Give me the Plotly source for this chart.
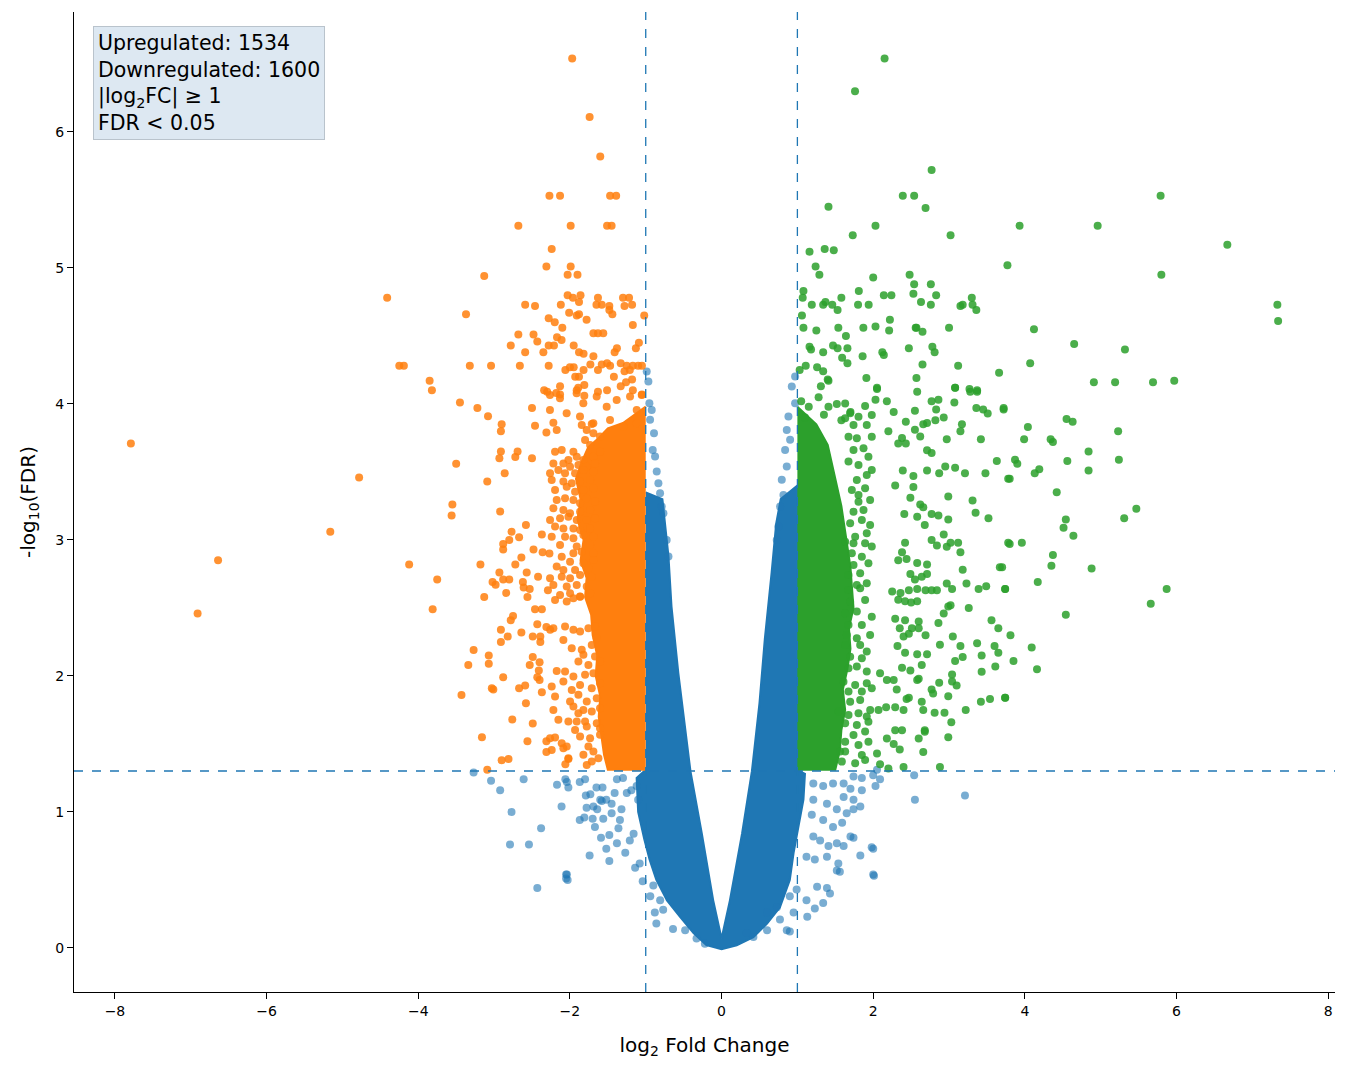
import plotly.graph_objects as go

# ---------------- data ----------------
# Dense cores (too many overlapping genes to separate) drawn as filled outlines, data units
ns_core = [(-1.0, 3.35), (-0.78, 3.30), (-0.70, 2.88), (-0.66, 2.51), (-0.57, 2.02), (-0.52, 1.80),
           (-0.41, 1.30), (-0.26, 0.84), (-0.11, 0.35), (0.0, 0.07), (0.11, 0.35), (0.27, 0.84),
           (0.40, 1.30), (0.50, 1.80), (0.57, 2.27), (0.66, 2.76), (0.72, 3.12), (0.78, 3.30),
           (1.0, 3.40), (1.0, 1.31), (1.10, 1.28), (1.08, 1.09), (1.01, 0.89), (0.95, 0.70),
           (0.90, 0.50), (0.77, 0.30), (0.60, 0.18), (0.42, 0.08), (0.20, 0.02), (0.0, -0.01),
           (-0.20, 0.02), (-0.37, 0.11), (-0.55, 0.23), (-0.72, 0.35), (-0.86, 0.50), (-0.95, 0.65),
           (-1.02, 0.80), (-1.10, 1.00), (-1.12, 1.25), (-1.0, 1.31)]

down_core = [(-1.0, 1.31), (-1.50, 1.31), (-1.55, 1.42), (-1.58, 1.55), (-1.62, 1.70), (-1.60, 1.85),
             (-1.66, 2.00), (-1.64, 2.15), (-1.70, 2.30), (-1.72, 2.45), (-1.80, 2.58), (-1.78, 2.72),
             (-1.86, 2.85), (-1.82, 3.00), (-1.90, 3.15), (-1.86, 3.30), (-1.92, 3.45), (-1.84, 3.58),
             (-1.76, 3.68), (-1.62, 3.75), (-1.50, 3.82), (-1.30, 3.86), (-1.15, 3.92), (-1.0, 3.98)]

up_core = [(1.0, 1.31), (1.50, 1.31), (1.56, 1.45), (1.58, 1.60), (1.63, 1.75), (1.60, 1.90),
           (1.66, 2.05), (1.70, 2.20), (1.68, 2.35), (1.74, 2.50), (1.72, 2.65), (1.70, 2.80),
           (1.66, 2.95), (1.62, 3.10), (1.58, 3.25), (1.52, 3.40), (1.46, 3.55), (1.40, 3.70),
           (1.25, 3.85), (1.0, 3.98)]

# Non-significant genes (individual points)
ns_points = [
    (-2.06, 1.24), (-2.02, 1.18), (-2.11, 1.04), (-1.87, 1.22), (-1.80, 1.24), (-1.73, 1.13),
    (-1.65, 1.18), (-1.57, 1.18), (-1.78, 1.03), (-1.69, 1.04), (-1.64, 1.02), (-1.58, 1.08),
    (-1.52, 1.09), (-1.45, 1.06), (-1.87, 0.94), (-1.81, 0.96), (-1.70, 0.95), (-1.56, 0.95),
    (-1.45, 0.99), (-1.32, 1.02), (-1.67, 0.89), (-1.59, 0.81), (-1.48, 0.83), (-1.36, 0.88),
    (-1.52, 0.73), (-1.38, 0.77), (-1.27, 0.70), (-1.74, 0.68), (-1.48, 0.64), (-1.14, 0.59),
    (-1.08, 0.62), (-1.04, 0.49), (-2.04, 0.54), (-2.05, 0.51), (-1.21, 0.79), (-1.16, 0.84),
    (-1.25, 1.14), (-1.19, 1.16), (-1.10, 1.09), (-1.38, 1.24), (-1.30, 1.25), (-1.12, 1.19),
    (-1.41, 1.14), (-1.34, 0.94),
    (1.74, 1.26), (1.85, 1.25), (2.00, 1.27), (1.70, 1.17), (1.85, 1.16), (2.03, 1.19),
    (1.21, 1.21), (1.34, 1.19), (1.47, 1.21), (1.61, 1.21), (1.61, 1.11), (1.74, 1.09),
    (1.21, 1.09), (1.39, 1.06), (1.52, 1.02), (1.65, 0.99), (1.19, 0.98), (1.34, 0.94),
    (1.47, 0.89), (1.59, 0.92), (1.74, 1.02), (1.83, 1.04), (1.21, 0.82), (1.30, 0.79),
    (1.41, 0.75), (1.52, 0.77), (1.61, 0.75), (1.70, 0.82), (1.74, 0.81), (2.00, 0.73),
    (2.00, 0.54), (1.12, 0.67), (1.23, 0.65), (1.39, 0.67), (1.52, 0.57), (1.56, 0.56),
    (1.26, 0.45), (1.39, 0.44), (1.43, 0.40), (1.12, 0.35), (1.23, 0.29), (1.34, 0.33),
    (1.13, 0.23), (0.90, 0.12),
    (-0.94, 0.38), (-0.88, 0.26), (-0.86, 0.18), (-0.64, 0.14), (-0.48, 0.13), (-0.33, 0.07),
    (-0.22, 0.03), (-0.90, 0.46), (-0.81, 0.35), (-0.77, 0.28),
    (0.33, 0.11), (0.42, 0.08), (0.60, 0.13), (0.77, 0.21), (0.86, 0.13), (0.95, 0.26),
    (0.60, 0.26), (0.73, 0.30), (0.90, 0.38), (0.99, 0.43),
    (-3.04, 1.23), (-3.27, 1.29), (-2.92, 1.16), (-2.77, 1.00), (-2.61, 1.24), (-2.38, 0.88),
    (-2.04, 1.22), (-2.79, 0.76), (-2.54, 0.76), (-2.43, 0.44), (-2.05, 0.54), (-2.03, 0.50),
    (-2.17, 1.20), (-1.79, 1.12), (-1.60, 1.09),
    (3.21, 1.12), (2.55, 1.09), (2.54, 1.27), (2.05, 1.31), (1.98, 0.74), (2.01, 0.53),
    (1.83, 0.68), (1.54, 0.62), (2.09, 1.24),
    (-0.987, 4.238), (-0.965, 4.165), (-0.952, 4.005), (-0.921, 3.956), (-0.943, 3.883),
    (-0.891, 3.785), (-0.908, 3.662), (-0.855, 3.503), (-0.833, 3.417), (-0.811, 3.344),
    (-0.877, 3.613), (-0.789, 3.245), (-0.767, 3.196), (-0.724, 3.000), (-0.700, 2.878),
    (0.970, 4.201), (0.926, 4.128), (0.970, 4.005), (0.882, 3.907), (0.860, 3.809),
    (0.904, 3.736), (0.838, 3.662), (0.860, 3.540), (0.794, 3.442), (0.816, 3.331),
    (0.772, 3.245), (0.750, 3.098), (0.728, 3.000),
]

# Downregulated genes (orange)
down_far = [(-7.79, 3.71), (-6.91, 2.46), (-6.64, 2.85), (-5.16, 3.06), (-4.78, 3.46),
            (-4.41, 4.78), (-4.25, 4.28), (-4.19, 4.28), (-4.12, 2.82), (-3.85, 4.17),
            (-3.82, 4.10), (-3.75, 2.71), (-3.81, 2.49)]

down_top = [
    (-1.97, 6.54), (-1.74, 6.11), (-1.60, 5.82), (-2.27, 5.53), (-2.13, 5.53), (-1.47, 5.53),
    (-1.39, 5.53), (-2.68, 5.31), (-1.99, 5.31), (-1.51, 5.31), (-1.45, 5.31), (-2.24, 5.14),
    (-2.31, 5.01), (-1.99, 5.01), (-2.03, 4.95), (-1.90, 4.95), (-3.13, 4.94), (-3.37, 4.66),
    (-2.59, 4.73), (-2.46, 4.72), (-2.03, 4.80), (-1.96, 4.78), (-1.86, 4.80), (-1.88, 4.75),
    (-2.12, 4.73), (-1.63, 4.78), (-1.65, 4.73), (-1.58, 4.73), (-1.48, 4.72), (-1.48, 4.69),
    (-1.44, 4.66), (-1.30, 4.78), (-1.22, 4.78), (-1.28, 4.72), (-1.18, 4.73), (-1.02, 4.65),
    (-2.01, 4.67), (-1.91, 4.65), (-1.88, 4.66), (-2.28, 4.63), (-2.20, 4.60), (-2.10, 4.56),
    (-1.78, 4.62), (-1.17, 4.58), (-2.68, 4.51), (-2.48, 4.51), (-2.17, 4.49), (-2.11, 4.47),
    (-2.43, 4.46), (-2.78, 4.43), (-2.28, 4.43), (-2.21, 4.43), (-1.95, 4.43), (-2.59, 4.38),
    (-2.35, 4.38), (-1.88, 4.38), (-1.82, 4.37), (-1.69, 4.52), (-1.63, 4.52), (-1.56, 4.52),
    (-1.41, 4.38), (-1.38, 4.41), (-1.13, 4.41), (-1.09, 4.45), (-3.32, 4.28), (-3.04, 4.28),
    (-2.66, 4.28), (-2.28, 4.28), (-2.06, 4.25), (-2.00, 4.27), (-1.95, 4.27), (-1.82, 4.25),
    (-1.73, 4.29), (-1.69, 4.35), (-1.63, 4.25), (-1.58, 4.29), (-1.51, 4.30), (-1.47, 4.28),
    (-1.33, 4.30), (-1.25, 4.28), (-1.17, 4.28), (-1.10, 4.28), (-1.05, 4.28), (-1.28, 4.24),
    (-1.21, 4.25), (-1.93, 4.20), (-1.88, 4.20), (-1.42, 4.20), (-1.18, 4.18), (-1.26, 4.16),
    (-1.33, 4.13), (-1.81, 4.14), (-1.91, 4.10), (-1.89, 4.12), (-2.13, 4.13), (-2.34, 4.10),
    (-2.30, 4.09), (-2.18, 4.08), (-2.13, 4.07), (-1.63, 4.09), (-1.51, 4.10), (-1.17, 4.10),
    (-1.05, 4.07), (-1.81, 4.06),
    (-2.263, 4.066), (-2.131, 4.042), (-1.911, 4.078), (-1.823, 4.005), (-1.647, 4.054),
    (-1.515, 3.980), (-1.383, 4.029), (-1.207, 4.054), (-1.119, 3.956), (-1.053, 4.066),
    (-2.263, 3.956), (-2.043, 3.931), (-1.867, 3.907), (-1.691, 3.858), (-1.471, 3.882),
    (-1.295, 3.833), (-1.119, 3.858), (-1.779, 3.809), (-1.603, 3.760),
]

down_mid = [
    (-3.45, 4.01), (-3.22, 3.97), (-3.08, 3.91), (-2.90, 3.85), (-2.91, 3.80), (-2.50, 3.97),
    (-2.46, 3.84), (-2.31, 3.79), (-3.50, 3.56), (-2.91, 3.65), (-2.93, 3.60), (-2.69, 3.65),
    (-2.72, 3.61), (-2.50, 3.60), (-3.09, 3.43), (-2.86, 3.49), (-3.55, 3.26), (-3.56, 3.18),
    (-2.92, 3.21), (-2.58, 3.11), (-2.77, 3.06), (-2.80, 3.00), (-2.88, 2.97), (-2.88, 2.93),
    (-2.67, 3.02), (-2.37, 3.04), (-2.48, 2.93), (-2.36, 2.91), (-2.27, 2.90), (-3.18, 2.82),
    (-2.72, 2.82), (-2.64, 2.87), (-2.93, 2.76), (-2.57, 2.76), (-3.02, 2.69), (-2.98, 2.67),
    (-2.88, 2.71), (-2.80, 2.71), (-2.62, 2.69), (-2.61, 2.65), (-2.53, 2.64), (-2.42, 2.73),
    (-2.29, 2.63), (-3.13, 2.58), (-2.84, 2.61), (-2.56, 2.58), (-2.46, 2.49), (-2.37, 2.49),
    (-2.75, 2.44), (-2.78, 2.41), (-2.43, 2.38), (-2.31, 2.36), (-2.26, 2.34), (-2.91, 2.34),
    (-2.82, 2.29), (-2.91, 2.25), (-2.64, 2.32), (-2.49, 2.29), (-2.39, 2.29), (-2.39, 2.25),
    (-3.27, 2.19), (-3.07, 2.15), (-3.07, 2.09), (-3.34, 2.08), (-2.49, 2.14), (-2.40, 2.10),
    (-2.41, 2.04), (-2.53, 2.08), (-2.43, 1.99), (-2.40, 1.97), (-2.88, 1.99), (-3.03, 1.91),
    (-3.01, 1.90), (-2.67, 1.91), (-2.59, 1.93), (-2.37, 1.88), (-3.43, 1.86), (-2.58, 1.80),
    (-2.76, 1.68), (-2.49, 1.65), (-3.16, 1.55), (-2.56, 1.52), (-2.31, 1.52), (-2.31, 1.44),
    (-2.90, 1.38), (-2.81, 1.39), (-3.09, 1.31), (-2.06, 1.35), (-2.02, 1.39),
]

down_band_upper = [
    (-2.218, 3.862), (-2.174, 3.808), (-1.844, 3.845), (-1.712, 3.853), (-1.690, 3.784),
    (-1.800, 3.735), (-1.734, 3.698), (-2.196, 3.649), (-2.108, 3.661), (-1.954, 3.649),
    (-1.910, 3.612), (-2.020, 3.588), (-1.822, 3.588), (-1.690, 3.612), (-1.603, 3.649),
    (-2.218, 3.563), (-2.086, 3.563), (-1.998, 3.539), (-1.888, 3.551), (-1.778, 3.539),
    (-1.669, 3.563), (-2.262, 3.490), (-2.152, 3.514), (-2.064, 3.490), (-1.932, 3.490),
    (-1.822, 3.514), (-1.690, 3.502), (-2.240, 3.441), (-2.086, 3.429), (-1.976, 3.416),
    (-1.866, 3.429), (-1.734, 3.441), (-2.196, 3.367), (-2.042, 3.392), (-1.932, 3.355),
    (-1.822, 3.367), (-1.690, 3.380), (-2.174, 3.294), (-2.064, 3.306), (-1.954, 3.294),
    (-1.866, 3.269), (-1.778, 3.306), (-1.669, 3.282), (-2.218, 3.233), (-2.086, 3.220),
    (-1.998, 3.196), (-1.866, 3.208), (-1.734, 3.220), (-2.262, 3.147), (-2.130, 3.159),
    (-2.020, 3.171), (-1.910, 3.147), (-1.778, 3.147), (-1.669, 3.159), (-2.196, 3.098),
    (-2.086, 3.085), (-1.954, 3.085), (-1.866, 3.073), (-1.734, 3.085), (-2.240, 3.024),
    (-2.064, 3.024), (-1.954, 3.012), (-1.822, 3.036), (-1.690, 3.024), (-2.130, 2.963),
    (-1.910, 2.951), (-1.734, 2.963), (-2.108, 2.877), (-1.954, 2.902), (-1.844, 2.914),
    (-1.690, 2.902), (-1.998, 2.840), (-1.822, 2.828), (-1.690, 2.853), (-2.174, 2.804),
    (-2.086, 2.779), (-1.932, 2.779), (-1.756, 2.791), (-2.262, 2.718), (-2.108, 2.730),
    (-1.998, 2.718), (-1.866, 2.742), (-1.712, 2.730), (-2.218, 2.669), (-2.042, 2.657),
    (-1.910, 2.669), (-1.778, 2.657), (-2.130, 2.595), (-1.998, 2.608), (-1.866, 2.583),
    (-1.734, 2.608),
]

down_band_lower = [
    (-2.196, 2.559), (-2.042, 2.547), (-1.954, 2.571), (-1.866, 2.584), (-2.218, 2.351),
    (-2.064, 2.363), (-1.954, 2.339), (-1.866, 2.326), (-1.756, 2.351), (-1.669, 2.363),
    (-2.086, 2.265), (-1.976, 2.204), (-1.844, 2.192), (-1.712, 2.228), (-1.646, 2.277),
    (-1.888, 2.106), (-1.756, 2.081), (-1.822, 2.155), (-1.669, 2.143), (-1.603, 2.106),
    (-2.174, 2.037), (-2.064, 2.032), (-1.954, 1.996), (-1.800, 2.008), (-1.690, 2.020),
    (-2.240, 1.922), (-2.086, 1.959), (-1.976, 1.897), (-1.866, 1.934), (-1.712, 1.910),
    (-1.603, 1.947), (-2.196, 1.848), (-1.998, 1.812), (-1.888, 1.861), (-1.778, 1.812),
    (-1.646, 1.836), (-1.954, 1.775), (-1.822, 1.750), (-1.712, 1.738), (-1.603, 1.763),
    (-2.218, 1.750), (-1.888, 1.726), (-2.152, 1.677), (-2.020, 1.665), (-1.910, 1.665),
    (-1.800, 1.665), (-1.646, 1.652), (-1.932, 1.603), (-1.778, 1.628), (-1.603, 1.616),
    (-2.262, 1.542), (-2.196, 1.547), (-2.108, 1.505), (-1.866, 1.554), (-1.734, 1.542),
    (-1.603, 1.567), (-2.240, 1.456), (-2.086, 1.469), (-2.042, 1.481), (-1.756, 1.481),
    (-1.690, 1.444), (-2.020, 1.395), (-1.822, 1.420), (-1.712, 1.371), (-1.624, 1.395),
    (-1.778, 1.346),
]

# Upregulated genes (green)
up_top = [
    (2.15, 6.54), (1.76, 6.30), (2.77, 5.72), (2.39, 5.53), (2.54, 5.53), (2.69, 5.44),
    (1.41, 5.45), (2.03, 5.31), (3.93, 5.31), (1.73, 5.24), (3.02, 5.24), (1.16, 5.12),
    (1.36, 5.14), (1.48, 5.13), (1.24, 5.01), (1.29, 4.95), (3.77, 5.02), (2.00, 4.93),
    (2.48, 4.95), (2.54, 4.88), (2.76, 4.88), (1.08, 4.83), (1.07, 4.78), (1.19, 4.73),
    (1.34, 4.73), (1.37, 4.75), (1.46, 4.73), (1.53, 4.69), (1.58, 4.78), (1.81, 4.83),
    (1.80, 4.73), (1.94, 4.73), (2.14, 4.80), (2.24, 4.80), (2.53, 4.81), (2.63, 4.75),
    (2.76, 4.73), (2.83, 4.80), (3.15, 4.72), (3.18, 4.73), (3.30, 4.78), (3.31, 4.73),
    (3.36, 4.69), (1.06, 4.65), (1.08, 4.56), (1.25, 4.54), (1.54, 4.56), (1.64, 4.50),
    (1.87, 4.56), (2.03, 4.57), (2.21, 4.54), (2.22, 4.62), (2.56, 4.56), (2.57, 4.56),
    (2.65, 4.53), (3.00, 4.56), (4.12, 4.55), (1.16, 4.42), (1.18, 4.40), (1.34, 4.38),
    (1.47, 4.43), (1.53, 4.41), (1.66, 4.41), (1.59, 4.34), (1.66, 4.30), (1.86, 4.35),
    (2.12, 4.38), (2.14, 4.36), (2.47, 4.41), (2.78, 4.42), (2.81, 4.38), (2.65, 4.29),
    (3.12, 4.28), (3.66, 4.23), (4.07, 4.30), (1.03, 4.25), (1.11, 4.28), (1.26, 4.27),
    (1.34, 4.24), (1.40, 4.18), (1.41, 4.17), (1.91, 4.19), (2.57, 4.19), (1.31, 4.13),
    (2.05, 4.12), (3.08, 4.12), (3.27, 4.11), (3.37, 4.10),
    (1.05, 4.02), (1.15, 3.98), (1.28, 4.05), (1.52, 4.00), (1.10, 3.90), (1.35, 3.92),
    (1.58, 3.88), (1.70, 3.94),
]

up_far = [
    (4.96, 5.31), (5.79, 5.53), (6.67, 5.17), (5.80, 4.95), (7.33, 4.73), (7.34, 4.61),
    (4.65, 4.44), (5.32, 4.40), (4.91, 4.16), (5.19, 4.16), (5.69, 4.16), (5.97, 4.17),
    (3.72, 3.96), (4.04, 3.83), (4.55, 3.89), (4.63, 3.87), (3.99, 3.74), (4.34, 3.74),
    (4.37, 3.72), (5.23, 3.80), (4.84, 3.65), (3.87, 3.59), (3.90, 3.56), (4.56, 3.58),
    (5.24, 3.59), (4.13, 3.49), (4.19, 3.52), (3.80, 3.45), (4.84, 3.51), (4.42, 3.35),
    (5.47, 3.23), (5.31, 3.16), (4.54, 3.15), (4.51, 3.09), (4.64, 3.03), (3.80, 2.97),
    (3.96, 2.98), (4.37, 2.89), (4.35, 2.81), (4.88, 2.79), (3.70, 2.80), (3.74, 2.64),
    (4.17, 2.69), (5.87, 2.64), (5.66, 2.53), (4.54, 2.45), (3.81, 2.30), (4.09, 2.21),
    (3.85, 2.11), (4.16, 2.05), (3.74, 1.84),
]

up_mid = [
    (2.05, 4.11), (2.58, 4.09), (3.08, 4.12), (3.28, 4.09), (3.37, 4.09), (2.18, 4.02),
    (2.03, 4.03), (2.77, 4.02), (2.86, 4.03), (3.07, 4.01), (3.36, 3.97), (3.45, 3.96),
    (3.51, 3.93), (3.72, 3.97), (2.55, 3.95), (2.27, 3.94), (2.83, 3.96), (2.93, 3.90),
    (2.82, 3.88), (2.43, 3.87), (2.55, 3.81), (2.66, 3.85), (2.71, 3.86), (3.17, 3.85),
    (3.15, 3.80), (2.97, 3.74), (3.42, 3.74), (2.20, 3.80), (2.38, 3.75), (2.33, 3.71),
    (2.43, 3.71), (2.62, 3.76), (2.71, 3.66), (2.77, 3.64), (3.63, 3.58), (3.78, 3.45),
    (2.95, 3.54), (3.08, 3.53), (3.21, 3.49), (3.48, 3.49), (2.71, 3.51), (2.87, 3.49),
    (2.39, 3.51), (2.53, 3.47), (2.29, 3.40), (2.53, 3.39), (2.99, 3.32), (3.31, 3.29),
    (2.49, 3.31), (2.62, 3.26), (2.66, 3.24), (3.35, 3.20), (3.52, 3.16), (2.41, 3.19),
    (2.58, 3.17), (2.68, 3.11), (2.77, 3.19), (2.86, 3.18), (2.99, 3.15), (2.93, 3.04),
    (2.77, 3.00), (2.84, 2.96), (2.42, 2.98), (2.38, 2.91), (2.97, 2.95), (3.02, 2.98),
    (3.12, 2.98), (3.15, 2.91), (3.78, 2.98), (2.33, 2.85), (2.44, 2.86), (2.58, 2.83),
    (2.71, 2.82), (3.18, 2.78), (3.67, 2.80), (2.49, 2.75), (2.64, 2.73), (2.71, 2.75),
    (2.55, 2.71), (2.97, 2.68), (3.04, 2.64), (3.23, 2.68), (3.39, 2.64), (3.49, 2.66),
    (3.74, 2.64), (2.25, 2.62), (2.36, 2.61), (2.47, 2.63), (2.58, 2.64), (2.69, 2.63),
    (2.77, 2.63), (2.84, 2.63), (2.33, 2.56), (2.42, 2.55), (2.50, 2.54), (2.58, 2.55),
    (2.99, 2.51), (3.02, 2.52), (3.26, 2.50), (2.93, 2.46), (2.29, 2.42), (2.42, 2.41),
    (2.60, 2.40), (3.56, 2.41), (2.86, 2.39), (2.35, 2.35), (2.51, 2.35), (2.60, 2.35),
    (3.65, 2.35), (2.40, 2.29), (2.47, 2.31), (2.69, 2.30), (3.05, 2.29), (3.37, 2.24),
    (3.60, 2.22), (3.15, 2.22), (2.32, 2.22), (2.42, 2.17), (2.58, 2.16), (2.71, 2.16),
    (2.64, 2.08), (2.88, 2.23), (3.18, 2.14), (3.43, 2.15), (3.65, 2.17), (3.08, 2.11),
    (3.61, 2.07), (3.43, 2.03), (2.38, 2.06), (2.49, 2.04), (2.58, 1.97), (2.60, 1.98),
    (2.09, 2.02), (2.18, 1.97), (2.27, 1.97), (2.87, 1.95), (3.04, 2.01), (3.04, 1.96),
    (3.10, 1.93), (2.77, 1.90), (2.79, 1.87), (3.74, 1.84), (3.54, 1.83), (3.42, 1.81),
    (2.99, 1.85), (2.31, 1.90), (2.47, 1.84), (2.44, 1.83), (2.64, 1.81), (2.17, 1.77),
    (2.07, 1.75), (1.96, 1.75), (2.29, 1.77), (2.40, 1.75), (2.66, 1.75), (2.81, 1.73),
    (2.94, 1.73), (3.22, 1.75), (3.03, 1.66), (2.29, 1.60), (2.38, 1.60), (2.68, 1.60),
    (2.68, 1.59), (2.60, 1.54), (2.99, 1.55), (2.18, 1.54), (2.27, 1.50), (2.35, 1.46),
    (2.66, 1.44), (2.05, 1.43), (2.09, 1.35), (2.20, 1.32), (2.40, 1.33), (2.88, 1.33),
]

up_band_upper = [
    (1.630, 4.004), (1.893, 3.985), (1.410, 3.980), (1.696, 3.931), (1.630, 3.894),
    (1.806, 3.906), (1.981, 3.919), (1.915, 3.845), (1.740, 3.845), (1.674, 3.759),
    (1.784, 3.747), (1.981, 3.759), (1.740, 3.661), (1.872, 3.674), (1.937, 3.612),
    (1.674, 3.576), (1.806, 3.551), (1.981, 3.514), (1.784, 3.441), (1.915, 3.478),
    (1.718, 3.367), (1.806, 3.330), (1.893, 3.380), (1.806, 3.281), (1.959, 3.294),
    (1.740, 3.208), (1.872, 3.220), (1.696, 3.122), (1.850, 3.147), (1.959, 3.110),
    (1.762, 3.024), (1.915, 3.049), (1.630, 2.987), (1.740, 2.975), (1.893, 2.975),
    (1.981, 2.951), (1.718, 2.902), (1.850, 2.877), (1.740, 2.816), (1.937, 2.828),
    (1.674, 2.742), (1.828, 2.755), (1.784, 2.669), (1.915, 2.681),
]

up_band_lower = [
    (1.674, 2.632), (1.828, 2.644), (1.696, 2.546), (1.893, 2.559), (1.630, 2.461),
    (1.784, 2.473), (1.981, 2.436), (1.674, 2.375), (1.850, 2.375), (1.652, 2.301),
    (1.784, 2.277), (1.959, 2.301), (1.630, 2.228), (1.828, 2.228), (1.915, 2.179),
    (1.696, 2.142), (1.850, 2.130), (1.674, 2.056), (1.784, 2.069), (1.915, 2.032),
    (1.608, 1.958), (1.762, 1.934), (1.915, 1.946), (1.674, 1.885), (1.850, 1.885),
    (1.981, 1.909), (1.696, 1.811), (1.828, 1.823), (1.542, 1.738), (1.674, 1.713),
    (1.806, 1.725), (1.915, 1.701), (1.630, 1.652), (1.784, 1.640), (1.937, 1.664),
    (1.740, 1.566), (1.893, 1.591), (1.630, 1.517), (1.806, 1.493), (1.937, 1.517),
    (1.564, 1.444), (1.630, 1.444), (1.850, 1.419), (1.586, 1.370), (1.762, 1.358),
    (1.893, 1.382),
]

counts = {"up": 1534, "down": 1600}
fc_cut = 1.0
fdr_cut = 1.301  # -log10(0.05)

# ---------------- figure ----------------
BLUE = "#1f77b4"
ORANGE = "#ff7f0e"
GREEN = "#2ca02c"
MSIZE = 8


def xs(p):
    return [a for a, _ in p]


def ys(p):
    return [b for _, b in p]


fig = go.Figure()

fig.add_trace(go.Scatter(x=xs(ns_core), y=ys(ns_core), mode="lines", fill="toself",
                         fillcolor=BLUE, line=dict(width=2, color=BLUE), hoverinfo="skip"))
fig.add_trace(go.Scatter(x=xs(ns_points), y=ys(ns_points), mode="markers",
                         marker=dict(size=MSIZE, color=BLUE, opacity=0.6, line=dict(width=0))))

fig.add_trace(go.Scatter(x=xs(down_core), y=ys(down_core), mode="lines", fill="toself",
                         fillcolor=ORANGE, line=dict(width=2, color=ORANGE), hoverinfo="skip"))
down_all = down_far + down_top + down_mid + down_band_upper + down_band_lower
fig.add_trace(go.Scatter(x=xs(down_all), y=ys(down_all), mode="markers",
                         marker=dict(size=MSIZE, color=ORANGE, opacity=0.85, line=dict(width=0))))

fig.add_trace(go.Scatter(x=xs(up_core), y=ys(up_core), mode="lines", fill="toself",
                         fillcolor=GREEN, line=dict(width=2, color=GREEN), hoverinfo="skip"))
up_all = up_top + up_far + up_mid + up_band_upper + up_band_lower
fig.add_trace(go.Scatter(x=xs(up_all), y=ys(up_all), mode="markers",
                         marker=dict(size=MSIZE, color=GREEN, opacity=0.85, line=dict(width=0))))

# threshold lines
dash = dict(color=BLUE, width=1.3, dash="dash")
fig.add_shape(type="line", xref="x", yref="paper", x0=-fc_cut, x1=-fc_cut, y0=0, y1=1, line=dash)
fig.add_shape(type="line", xref="x", yref="paper", x0=fc_cut, x1=fc_cut, y0=0, y1=1, line=dash)
fig.add_shape(type="line", xref="paper", yref="y", x0=0, x1=1, y0=fdr_cut, y1=fdr_cut, line=dash)

fig.add_annotation(
    xref="paper", yref="paper", x=0.0152, y=0.986, xanchor="left", yanchor="top", align="left",
    showarrow=False,
    text=(f"Upregulated: {counts['up']}<br>Downregulated: {counts['down']}"
          "<br>|log<sub>2</sub>FC| ≥ 1<br>FDR &lt; 0.05"),
    font=dict(family="DejaVu Sans", size=20.5, color="black"),
    bgcolor="#dde8f2", bordercolor="#b9c3cc", borderwidth=1, borderpad=4,
)

axis_common = dict(showgrid=False, zeroline=False, showline=True, linecolor="black", linewidth=1,
                   ticks="outside", ticklen=6, tickwidth=1, tickcolor="black",
                   tickfont=dict(family="DejaVu Sans", size=14, color="black"), mirror=False)

fig.update_xaxes(range=[-8.54, 8.09], tickmode="array", tickvals=list(range(-8, 9, 2)),
                 title=dict(text="log<sub>2</sub> Fold Change",
                            font=dict(family="DejaVu Sans", size=20, color="black"), standoff=20),
                 **axis_common)
fig.update_yaxes(range=[-0.324, 6.882], tickmode="array", tickvals=list(range(0, 7)),
                 title=dict(text="-log<sub>10</sub>(FDR)",
                            font=dict(family="DejaVu Sans", size=20, color="black"), standoff=14),
                 **axis_common)

# page body keeps an 8 px margin: size the figure to fit inside it
fig.update_layout(width=1333, height=1058, showlegend=False,
                  margin=dict(l=66, r=6, t=4, b=74),
                  plot_bgcolor="white", paper_bgcolor="white",
                  font=dict(family="DejaVu Sans"))

fig.write_html("out.html")
